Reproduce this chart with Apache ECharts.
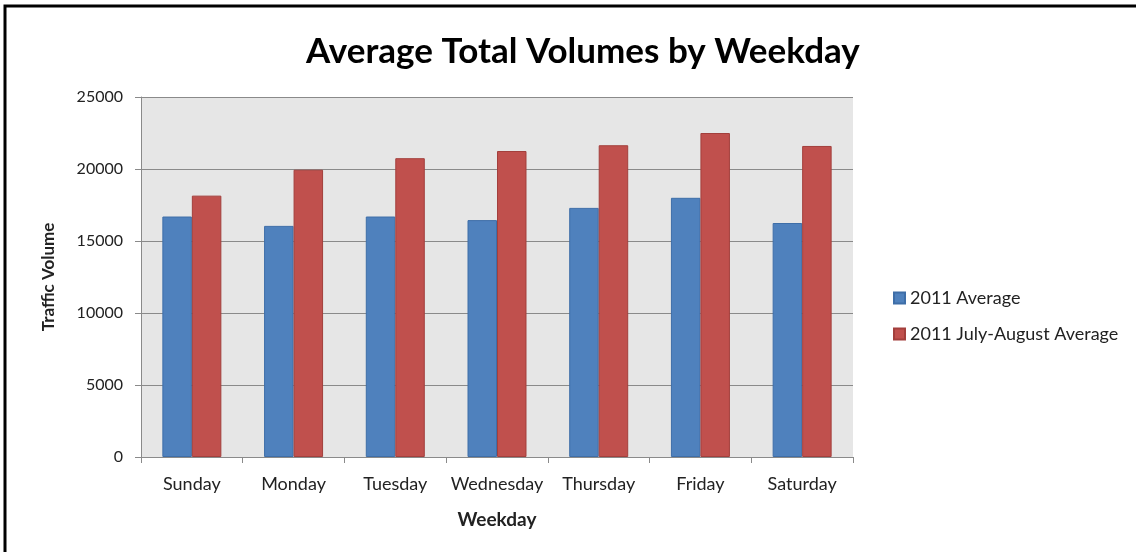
<!DOCTYPE html>
<html><head><meta charset="utf-8">
<script src="https://cdn.jsdelivr.net/npm/echarts@6/dist/echarts.min.js"></script>
<style>html,body{margin:0;padding:0;background:#fff}#c{width:1136px;height:552px}</style>
</head><body><div id="c"></div>
<script>
var categories = ['Sunday','Monday','Tuesday','Wednesday','Thursday','Friday','Saturday'];
var avg2011 = [16700, 16050, 16700, 16450, 17300, 18000, 16250];
var julAug2011 = [18150, 19950, 20750, 21250, 21650, 22500, 21600];
var yTicks = [0, 5000, 10000, 15000, 20000, 25000];
var seriesNames = ['2011 Average', '2011 July-August Average'];

var chart = echarts.init(document.getElementById('c'));
var font = 'Lato, "Open Sans", sans-serif';
chart.setOption({
  animation: false,
  backgroundColor: '#fff',
  graphic: [{
    type: 'rect', shape: {x: 5, y: 6, width: 1200, height: 600},
    style: {fill: 'none', stroke: '#000', lineWidth: 3}, z: 100
  }],
  title: {
    text: 'Average Total Volumes by Weekday', left: 301, top: 29,
    textStyle: {fontFamily: font, fontWeight: 'bold', fontSize: 35, color: '#000'}
  },
  legend: {
    orient: 'vertical', left: 888, top: 284, itemGap: 18,
    itemWidth: 11, itemHeight: 11, icon: 'rect',
    textStyle: {fontFamily: font, fontSize: 18, color: '#222'},
    data: seriesNames
  },
  grid: {left: 141, right: 283, top: 97, bottom: 95, show: true,
    backgroundColor: '#e6e6e6', borderWidth: 0},
  xAxis: {
    type: 'category', data: categories,
    name: 'Weekday', nameLocation: 'middle', nameGap: 53,
    nameTextStyle: {fontFamily: font, fontWeight: 'bold', fontSize: 19, color: '#222'},
    axisLine: {lineStyle: {color: '#8a8a8a', width: 1}},
    axisTick: {show: true, length: 6, alignWithLabel: false, lineStyle: {color: '#8a8a8a'}},
    axisLabel: {interval: 0, fontFamily: font, fontSize: 18, color: '#222', margin: 18}
  },
  yAxis: {
    type: 'value', min: yTicks[0], max: yTicks[yTicks.length-1], interval: 5000,
    name: 'Traffic Volume', nameLocation: 'middle', nameGap: 84, nameRotate: 90,
    nameTextStyle: {fontFamily: font, fontWeight: 'bold', fontSize: 17, color: '#222'},
    axisLine: {show: true, lineStyle: {color: '#8a8a8a', width: 1}},
    axisTick: {show: true, length: 6, lineStyle: {color: '#8a8a8a'}},
    axisLabel: {fontFamily: font, fontSize: 16, color: '#222', margin: 18,
      formatter: function (v) { return String(v); }},
    splitLine: {lineStyle: {color: '#8a8a8a', width: 1}}
  },
  series: [
    {name: seriesNames[0], type: 'bar', data: avg2011, barGap: '0%', barCategoryGap: '42%',
      itemStyle: {color: '#4f81bd', borderColor: '#3e6ea8', borderWidth: 1}},
    {name: seriesNames[1], type: 'bar', data: julAug2011, barGap: '0%', barCategoryGap: '42%',
      itemStyle: {color: '#c0504d', borderColor: '#a33f3c', borderWidth: 1}}
  ]
});
</script></body></html>
